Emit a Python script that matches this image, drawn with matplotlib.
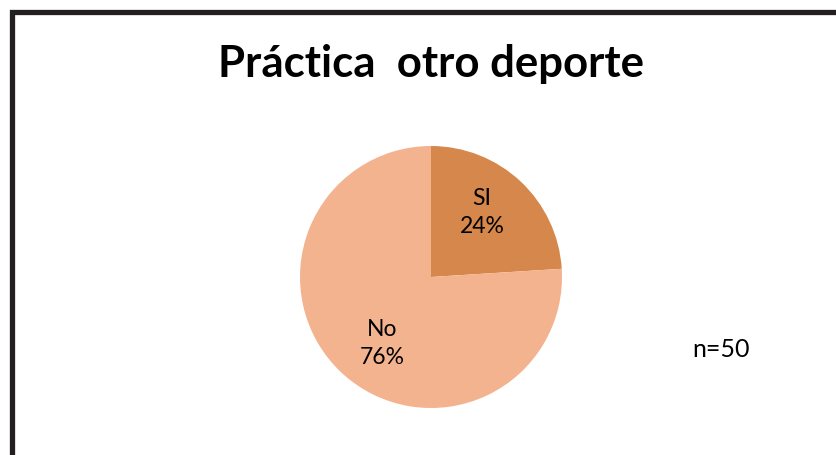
import matplotlib.pyplot as plt
from matplotlib.patches import Rectangle

# data
categories = ["SI", "No"]
percents = [24, 76]
colors = ["#D6874B", "#F4B38F"]
title = "Práctica  otro deporte"
note = "n=50"

plt.rcParams['font.family'] = ['Lato', 'DejaVu Sans']

W, H = 837, 456
fig = plt.figure(figsize=(W / 100, H / 100), dpi=100)

# black frame (runs off the right and bottom edges)
fig.patches.append(Rectangle((12.5 / W, -0.2), 1.2, 1 - 12.5 / H + 0.2,
                             transform=fig.transFigure, fill=False,
                             edgecolor="#231f20", linewidth=3.8))

r_px = 131
cx, cy = 431, H - 278
side = 2.5 * r_px
ax = fig.add_axes([(cx - side / 2) / W, (cy - side / 2) / H, side / W, side / H])

labels = [f"{c}\n{p}%" for c, p in zip(categories, percents)]
wedges, texts = ax.pie(percents, labels=labels, colors=colors, startangle=90,
                       counterclock=False, labeldistance=0.63,
                       textprops=dict(fontsize=16.5, color="black"))
# Excel-style label spots inside each slice
label_spots = [(0.39, 0.50), (-0.37, -0.50)]
for t, pos in zip(texts, label_spots):
    t.set_position(pos)
    t.set_ha("center")
    t.set_va("center")
    t.set_linespacing(1.4)
ax.set_xlim(-1.25, 1.25)
ax.set_ylim(-1.25, 1.25)
ax.set_aspect("equal")

fig.text(431 / W, 1 - 77 / H, title, ha="center", va="baseline",
         fontsize=31.5, fontweight="bold")
fig.text(721 / W, 1 - 357 / H, note, ha="center", va="baseline", fontsize=18)

fig.savefig("out.png", dpi=100)
